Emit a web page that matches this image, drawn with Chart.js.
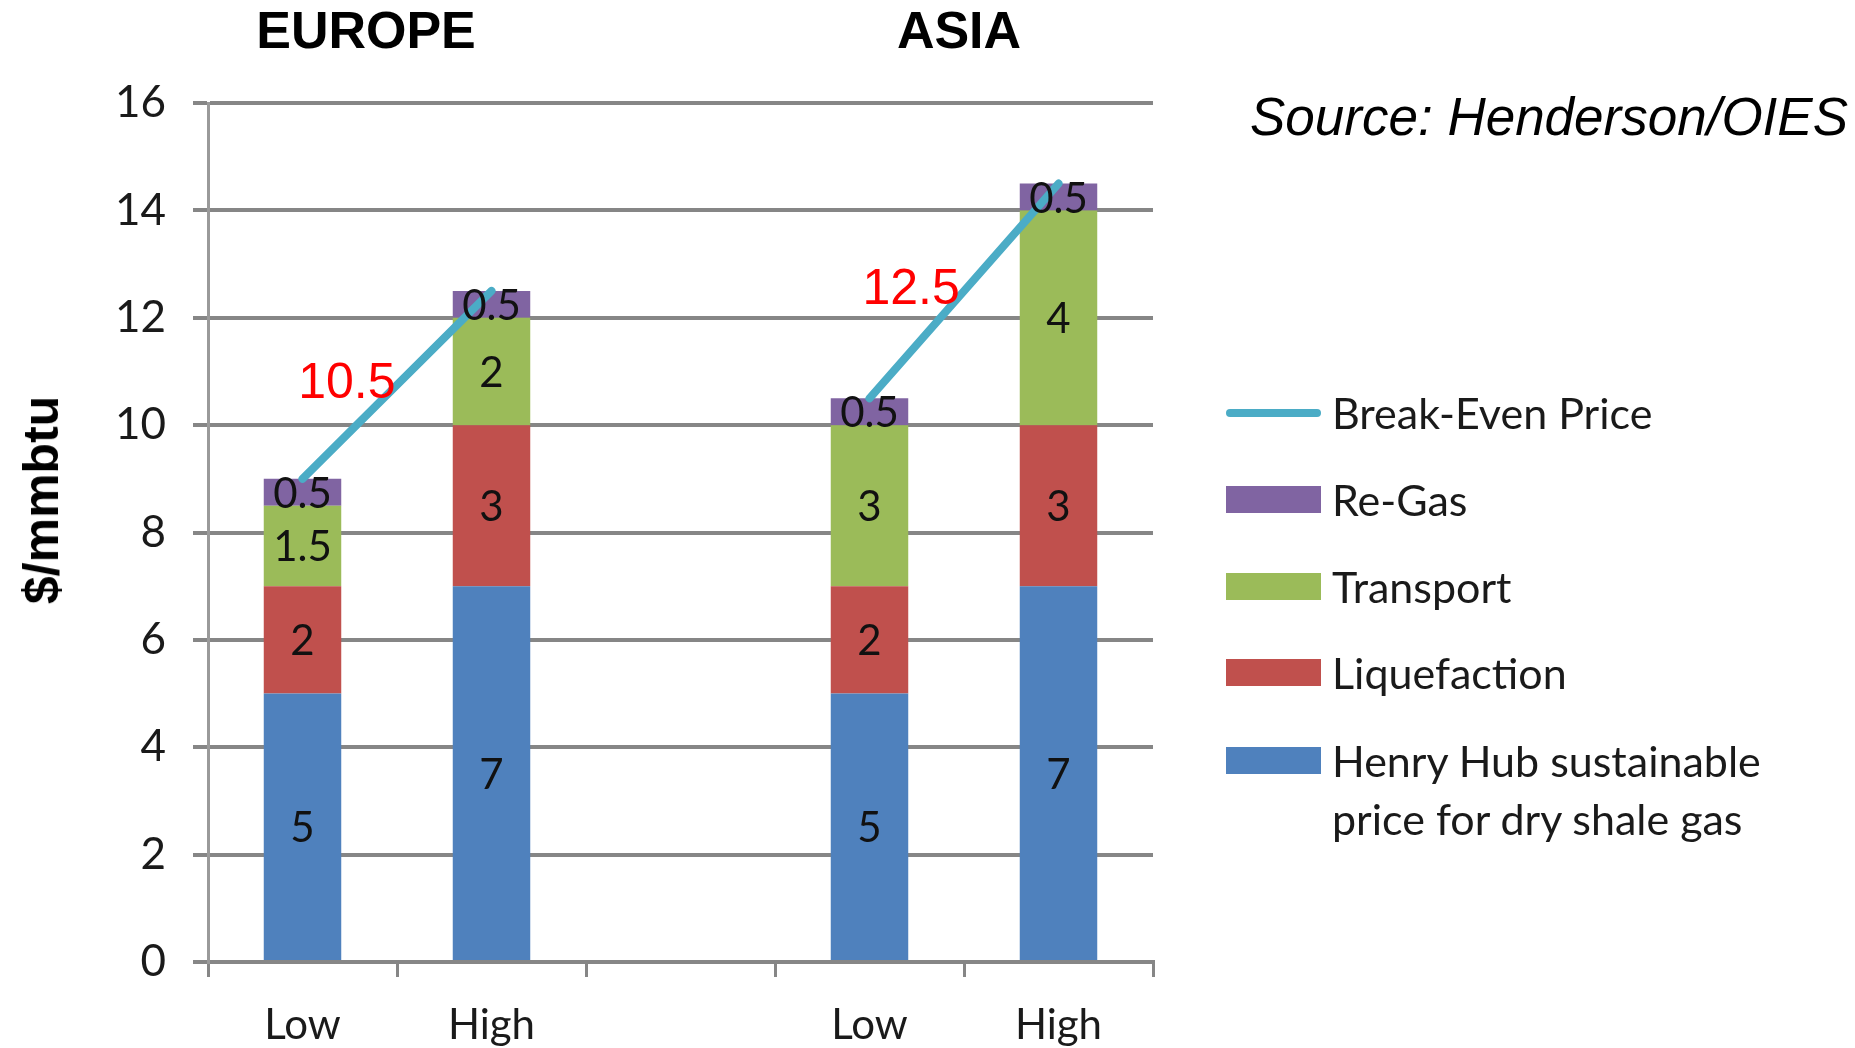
<!DOCTYPE html>
<html>
<head>
<meta charset="utf-8">
<script src="https://cdn.jsdelivr.net/npm/chart.js@4.4.1/dist/chart.umd.min.js"></script>
<style>
  body { margin: 0; background: #fff; width: 1855px; height: 1048px; overflow: hidden; position: relative; font-family: Lato, sans-serif; }
  #chart { position: absolute; left: 0; top: 0; }
  .region { position: absolute; top: 0; font: bold 52px "Liberation Sans", Arial, sans-serif; line-height: 60px; transform: translateX(-50%); }
  #source { position: absolute; left: 1250px; top: 86px; font: italic 53px "Liberation Sans", Arial, sans-serif; white-space: nowrap; }
  #ytitle { position: absolute; left: 41px; top: 500px; font: bold 50px "Liberation Sans", Arial, sans-serif; white-space: nowrap;
            transform: translate(-50%, -50%) rotate(-90deg); }
  .leg { position: absolute; left: 1226px; font: 43px Lato, sans-serif; color: #1a1a1a; }
  .leg .sw { position: absolute; left: 0; width: 95px; }
  .leg .txt { position: absolute; left: 106px; white-space: nowrap; line-height: 58px; }
</style>
</head>
<body>
<canvas id="chart" width="1855" height="1048"></canvas>
<div class="region" style="left:366px">EUROPE</div>
<div class="region" style="left:959px">ASIA</div>
<div id="source">Source: Henderson/OIES</div>
<div id="ytitle">$/mmbtu</div>
<div id="legend"></div>
<script>
// categories (blank slot separates the two regions)
const categories = ['Low', 'High', '', 'Low', 'High'];

// $/mmbtu components
const henryHub     = [5, 7, null, 5, 7];
const liquefaction = [2, 3, null, 2, 3];
const transport    = [1.5, 2, null, 3, 4];
const reGas        = [0.5, 0.5, null, 0.5, 0.5];
const breakEven    = [9, 12.5, null, 10.5, 14.5];

const yTicks = [0, 2, 4, 6, 8, 10, 12, 14, 16];

// red callouts
const calloutText = ['10.5', '12.5'];
const calloutX = [0.235, 3.22];
const calloutY = [10.77, 12.52];

const colors = {
  henry: '#4F81BD',
  liq: '#C0504D',
  trans: '#9BBB59',
  regas: '#8064A2',
  line: '#4BACC6'
};
const gridColor = '#868686';

const barLabels = {
  id: 'barLabels',
  afterDatasetsDraw(chart) {
    const ctx = chart.ctx;
    ctx.save();
    ctx.font = '42px Lato';
    ctx.fillStyle = '#111';
    ctx.textAlign = 'center';
    ctx.textBaseline = 'middle';
    chart.data.datasets.forEach((ds, i) => {
      if (ds.type === 'line') return;
      const meta = chart.getDatasetMeta(i);
      meta.data.forEach((bar, j) => {
        const v = ds.data[j];
        if (v == null) return;
        const mid = (bar.y + bar.base) / 2;
        ctx.fillText(String(v), bar.x, mid + 2);
      });
    });
    // red callouts
    const xs = chart.scales.x, ys = chart.scales.y;
    ctx.font = '50px "Liberation Sans", Arial';
    ctx.fillStyle = '#FF0000';
    calloutText.forEach((t, k) => {
      ctx.fillText(t, xs.getPixelForValue(calloutX[k]), ys.getPixelForValue(calloutY[k]));
    });
    ctx.restore();
  }
};

const ctx = document.getElementById('chart').getContext('2d');
const myChart = new Chart(ctx, {
  type: 'bar',
  data: {
    labels: categories,
    datasets: [
      { type: 'line', label: 'Break-Even Price', data: breakEven, borderColor: colors.line,
        borderWidth: 8, borderCapStyle: 'round', pointRadius: 0, spanGaps: false, fill: false, order: 0 },
      { label: 'Henry Hub sustainable price for dry shale gas', data: henryHub, backgroundColor: colors.henry, order: 1 },
      { label: 'Liquefaction', data: liquefaction, backgroundColor: colors.liq, order: 1 },
      { label: 'Transport', data: transport, backgroundColor: colors.trans, order: 1 },
      { label: 'Re-Gas', data: reGas, backgroundColor: colors.regas, order: 1 }
    ]
  },
  options: {
    responsive: false,
    animation: false,
    layout: { padding: { left: 0, right: 702, top: 103, bottom: 0 } },
    datasets: { bar: { categoryPercentage: 1, barPercentage: 0.41 } },
    plugins: { legend: { display: false }, tooltip: { enabled: false } },
    scales: {
      x: {
        stacked: true,
        offset: true,
        grid: { offset: true, drawOnChartArea: false, color: gridColor, lineWidth: 3, tickLength: 15 },
        border: { color: gridColor, width: 4 },
        ticks: { font: { family: 'Lato', size: 42 }, color: '#1a1a1a', padding: 23 },
        afterFit(scale) { scale.height = 86; }
      },
      y: {
        stacked: true,
        min: 0,
        max: 16,
        afterBuildTicks(scale) { scale.ticks = yTicks.map(v => ({ value: v })); },
        grid: { color: gridColor, lineWidth: 4, tickLength: 15 },
        border: { color: '#9a9a9a', width: 3 },
        ticks: { font: { family: 'Lato', size: 44 }, color: '#1a1a1a', padding: 27 },
        afterFit(scale) { scale.width = 208; }
      }
    }
  },
  plugins: [barLabels]
});

// html legend built from the chart's datasets
const legendOrder = [0, 4, 3, 2, 1];
const legendTops = [384, 471, 558, 644, 732];
const legendLabels = {
  1: 'Henry Hub sustainable<br>price for dry shale gas'
};
const legendEl = document.getElementById('legend');
legendOrder.forEach((di, k) => {
  const ds = myChart.data.datasets[di];
  const item = document.createElement('div');
  item.className = 'leg';
  item.style.top = legendTops[k] + 'px';
  const sw = document.createElement('div');
  sw.className = 'sw';
  if (ds.type === 'line') {
    sw.style.top = '25px'; sw.style.height = '8px'; sw.style.borderRadius = '4px';
    sw.style.background = ds.borderColor;
  } else {
    sw.style.top = '15px'; sw.style.height = '27px';
    sw.style.background = ds.backgroundColor;
  }
  const txt = document.createElement('div');
  txt.className = 'txt';
  txt.innerHTML = legendLabels[di] || ds.label;
  item.appendChild(sw);
  item.appendChild(txt);
  legendEl.appendChild(item);
});
</script>
</body>
</html>
